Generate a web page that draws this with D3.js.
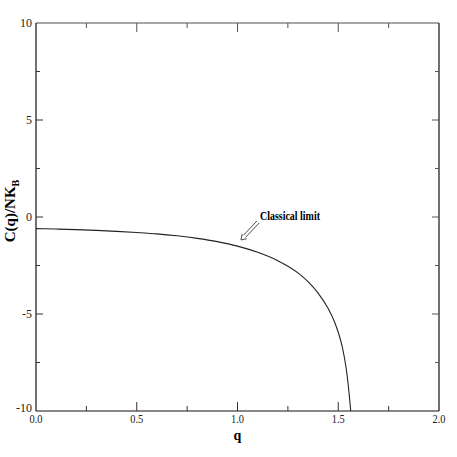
<!DOCTYPE html>
<html><head><meta charset="utf-8">
<script src="https://cdn.jsdelivr.net/npm/d3@7"></script>
<style>body{margin:0;background:#fff}svg{display:block}</style>
</head><body>
<script>
const qValues = [0, 0.1, 0.2, 0.3, 0.4, 0.5, 0.6, 0.7, 0.8, 0.9, 1.0, 1.1, 1.2, 1.3, 1.35, 1.4, 1.45, 1.48, 1.5, 1.52, 1.54, 1.55, 1.562];
const cValues = [-0.60, -0.62, -0.65, -0.69, -0.74, -0.80, -0.87, -0.97, -1.10, -1.27, -1.50, -1.82, -2.25, -2.88, -3.33, -3.92, -4.72, -5.37, -5.94, -6.70, -7.85, -8.70, -10];
const xTicks = [0, 0.5, 1.0, 1.5, 2.0];
const xMinor = [0.25, 0.75, 1.25, 1.75];
const yTicks = [-10, -5, 0, 5, 10];
const yMinor = [-7.5, -2.5, 2.5, 7.5];
const annotation = "Classical limit";

const W = 457, H = 457;
const m = {l: 36, r: 18, t: 23, b: 46};
const svg = d3.select("body").append("svg").attr("width", W).attr("height", H);
const x = d3.scaleLinear().domain([0, 2]).range([m.l, W - m.r]);
const y = d3.scaleLinear().domain([-10, 10]).range([H - m.b, m.t]);
const font = "'Liberation Serif', 'Times New Roman', serif";

// axes frame
const g = svg.append("g");
g.append("line").attr("x1", x(0)).attr("x2", x(2)).attr("y1", y(10)).attr("y2", y(10)).attr("stroke", "#888").attr("stroke-width", 1.6);
g.append("line").attr("x1", x(0)).attr("x2", x(2)).attr("y1", y(-10)).attr("y2", y(-10)).attr("stroke", "#111").attr("stroke-width", 1.2);
g.append("line").attr("x1", x(0)).attr("x2", x(0)).attr("y1", y(-10)).attr("y2", y(10)).attr("stroke", "#111").attr("stroke-width", 1.2);
g.append("line").attr("x1", x(2)).attr("x2", x(2)).attr("y1", y(-10)).attr("y2", y(10)).attr("stroke", "#111").attr("stroke-width", 1.2);

function xt(vals, len) {
  vals.forEach(v => {
    g.append("line").attr("x1", x(v)).attr("x2", x(v)).attr("y1", y(-10)).attr("y2", y(-10) - len).attr("stroke", "#333");
    g.append("line").attr("x1", x(v)).attr("x2", x(v)).attr("y1", y(10)).attr("y2", y(10) + len).attr("stroke", "#555");
  });
}
function yt(vals, len) {
  vals.forEach(v => {
    g.append("line").attr("y1", y(v)).attr("y2", y(v)).attr("x1", x(0)).attr("x2", x(0) + len).attr("stroke", "#333");
    g.append("line").attr("y1", y(v)).attr("y2", y(v)).attr("x1", x(2)).attr("x2", x(2) - len).attr("stroke", "#555");
  });
}
xt(xTicks.slice(1, -1), 9); xt(xMinor, 5);
yt(yTicks.slice(1, -1), 7); yt(yMinor, 4);

g.selectAll(".xl").data(xTicks).enter().append("text")
  .attr("x", d => x(d)).attr("y", y(-10) + 12).attr("text-anchor", "middle")
  .attr("font-family", font).attr("font-size", 12).attr("fill", "#222")
  .attr("textLength", 13).attr("lengthAdjust", "spacingAndGlyphs")
  .text(d => d3.format(".1f")(d));
g.selectAll(".yl").data(yTicks).enter().append("text")
  .attr("x", x(0) - 4).attr("y", d => y(d) + (d === -10 ? 1 : 4)).attr("text-anchor", "end")
  .attr("font-family", font).attr("font-size", 12).attr("fill", "#222")
  .text(d => d);

svg.append("text").attr("x", x(1)).attr("y", 440).attr("text-anchor", "middle")
  .attr("font-family", font).attr("font-size", 14).attr("font-weight", "bold").text("q");
const yl = svg.append("text").attr("transform", `translate(15,${y(0) - 6}) rotate(-90)`).attr("text-anchor", "middle")
  .attr("font-family", font).attr("font-size", 15).attr("font-weight", "bold");
yl.append("tspan").text("C(q)/NK");
yl.append("tspan").attr("font-size", 10).attr("dy", 4).text("B");

// curve
const line = d3.line().x((d, i) => x(qValues[i])).y(d => y(d)).curve(d3.curveMonotoneX);
svg.append("path").datum(cValues).attr("d", line).attr("fill", "none").attr("stroke", "#222").attr("stroke-width", 1.1);

// annotation
svg.append("text").attr("x", 260).attr("y", 220).attr("font-family", font).attr("font-size", 11.5)
  .attr("font-weight", "bold").attr("textLength", 60).attr("lengthAdjust", "spacingAndGlyphs").text(annotation);
// double-line arrow
const ax0 = 258, ay0 = 222, ax1 = 241, ay1 = 240;
const ang = Math.atan2(ay1 - ay0, ax1 - ax0);
const px = -Math.sin(ang) * 1.5, py = Math.cos(ang) * 1.5;
const hb = 5;
const bx = ax1 - Math.cos(ang) * hb, by = ay1 - Math.sin(ang) * hb;
const ar = svg.append("g").attr("stroke", "#222").attr("stroke-width", 0.8).attr("fill", "none");
ar.append("line").attr("x1", ax0 + px).attr("y1", ay0 + py).attr("x2", bx + px).attr("y2", by + py);
ar.append("line").attr("x1", ax0 - px).attr("y1", ay0 - py).attr("x2", bx - px).attr("y2", by - py);
ar.append("path").attr("d", `M${bx + px * 2.2},${by + py * 2.2} L${ax1},${ay1} L${bx - px * 2.2},${by - py * 2.2}`);
</script>
</body></html>
